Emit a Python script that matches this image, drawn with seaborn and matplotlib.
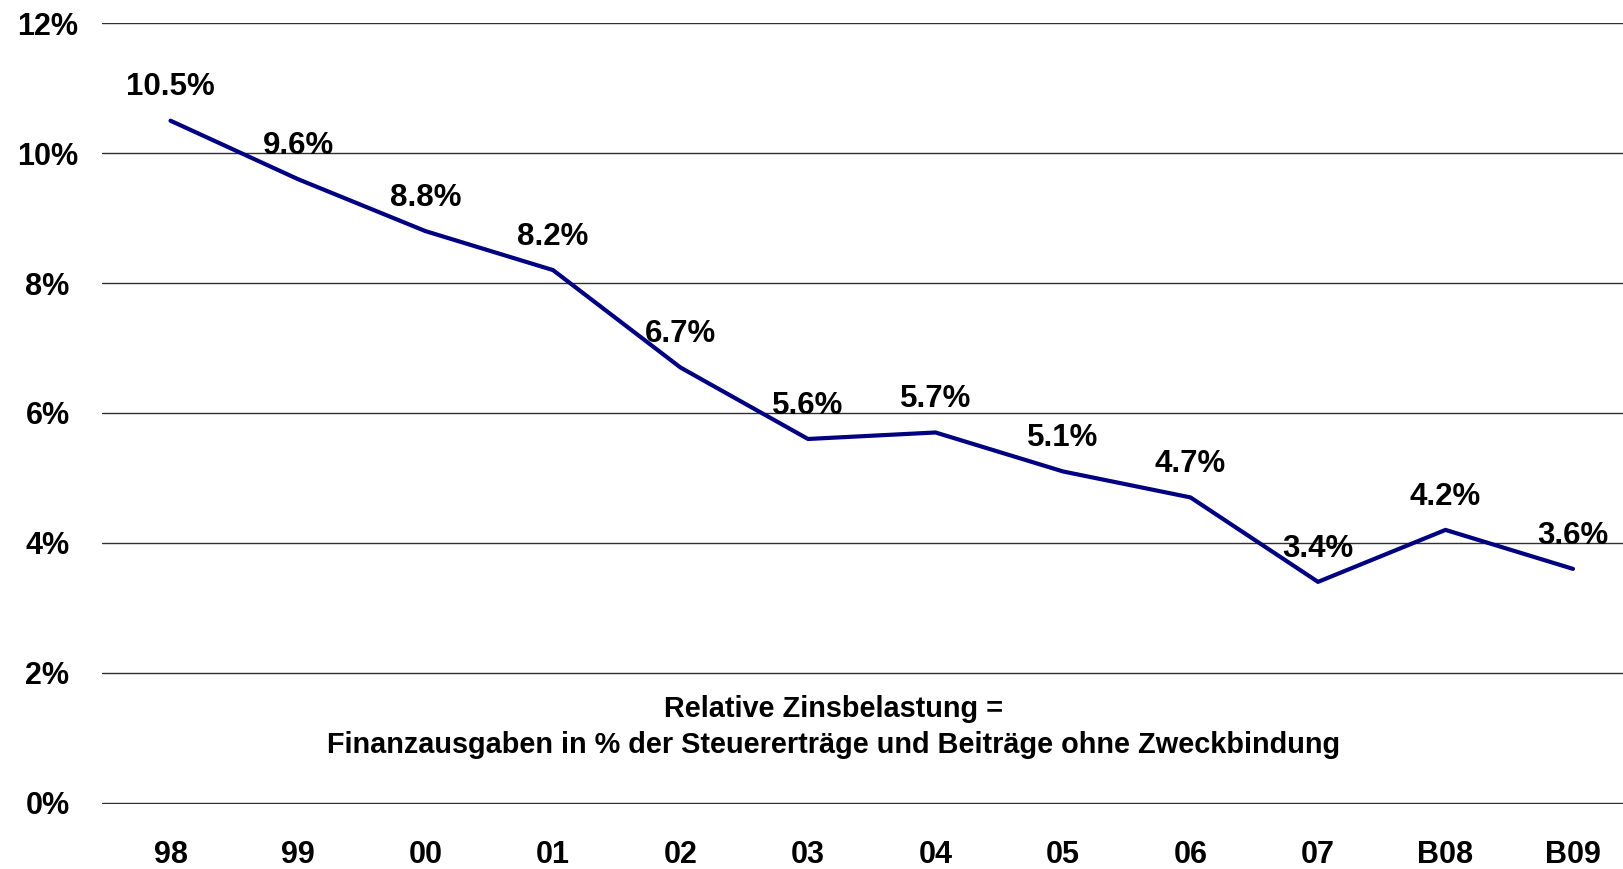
import matplotlib
matplotlib.use('Agg')
import matplotlib.pyplot as plt
import seaborn as sns
import pandas as pd

# Data
years = ['98', '99', '00', '01', '02', '03', '04', '05', '06', '07', 'B08', 'B09']
values = [10.5, 9.6, 8.8, 8.2, 6.7, 5.6, 5.7, 5.1, 4.7, 3.4, 4.2, 3.6]
y_ticks = [0, 2, 4, 6, 8, 10, 12]
note = 'Relative Zinsbelastung =\nFinanzausgaben in % der Steuererträge und Beiträge ohne Zweckbindung'

sns.set_style('white')
plt.rcParams['font.family'] = ['Liberation Sans', 'DejaVu Sans']
plt.rcParams['font.weight'] = 'bold'
plt.rcParams['text.color'] = 'black'
plt.rcParams['xtick.color'] = 'black'
plt.rcParams['ytick.color'] = 'black'

df = pd.DataFrame({'year': years, 'value': values})

fig = plt.figure(figsize=(16.24, 8.69), dpi=100)
ax = fig.add_axes([0.0626, 0.0748, 0.9374, 0.8984])

sns.lineplot(data=df, x='year', y='value', sort=False, color='#000080',
             linewidth=3.0, ax=ax)

# Data labels above each point
for i, v in enumerate(values):
    ax.annotate(f'{v:.1f}%', (i, v), xytext=(0, 24), textcoords='offset points',
                ha='center', va='center', fontsize=22.5, fontweight='bold')

ax.text(5.2, 1.17, note, ha='center', va='center', fontsize=20.8,
        fontweight='bold', linespacing=1.35)

ax.set_xlim(-0.54, 11.4)
ax.set_ylim(-0.02, 12)
ax.set_yticks(y_ticks)
ax.set_yticklabels([f'{t}%' for t in y_ticks])
ax.yaxis.grid(True, color='#303030', linewidth=1)
ax.xaxis.grid(False)
for s in ax.spines.values():
    s.set_visible(False)

ax.tick_params(axis='x', length=0, pad=26, labelsize=22)
ax.tick_params(axis='y', length=0, pad=39, labelsize=22)
for lab in ax.get_yticklabels():
    lab.set_ha('center')
    lab.set_fontweight('bold')
for lab in ax.get_xticklabels():
    lab.set_fontweight('bold')
ax.set_xlabel('')
ax.set_ylabel('')

fig.savefig('out.png', dpi=100)
